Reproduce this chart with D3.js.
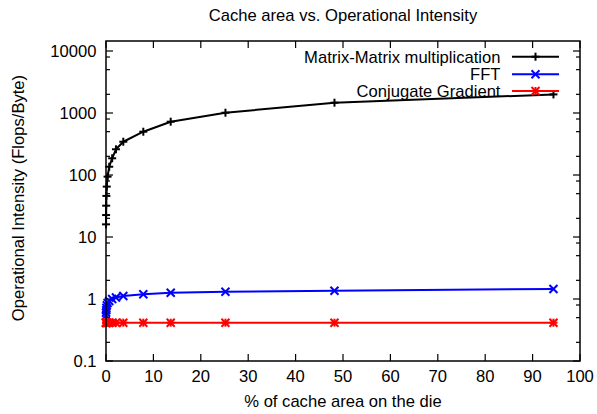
<!DOCTYPE html>
<html>
<head>
<meta charset="utf-8">
<script src="https://cdn.jsdelivr.net/npm/d3@7"></script>
<style>
  html, body { margin: 0; padding: 0; background: #fff; }
  svg text { font-family: "Liberation Sans", Arial, sans-serif; fill: #000; }
</style>
</head>
<body>
<svg id="chart" width="597" height="414"></svg>
<script>
// Share of die area given to cache (%), one entry per configuration
const cacheArea = [0.01, 0.02, 0.04, 0.08, 0.16, 0.33, 0.68, 1.3, 2.1, 3.65, 7.87, 13.65, 25.2, 48.2, 94.4];
// Operational intensity (Flops/Byte) for each kernel
const matrixMatrix = [16, 22.6, 32, 46, 65, 94, 136, 186, 260, 344, 499, 724, 1011, 1466, 1995];
const fft = [0.54, 0.6, 0.66, 0.72, 0.79, 0.86, 0.93, 1.0, 1.06, 1.12, 1.19, 1.26, 1.31, 1.36, 1.45];
const conjugateGradient = [0.415, 0.415, 0.415, 0.415, 0.415, 0.415, 0.415, 0.415, 0.415, 0.415, 0.415, 0.415, 0.415, 0.415, 0.415];

const seriesNames = ["Matrix-Matrix multiplication", "FFT", "Conjugate Gradient"];
const seriesColors = ["#000000", "#0000ff", "#ff0000"];
const seriesMarkers = ["plus", "cross", "star"];
const seriesValues = [matrixMatrix, fft, conjugateGradient];

const xTicks = [0, 10, 20, 30, 40, 50, 60, 70, 80, 90, 100];
const yTicks = [0.1, 1, 10, 100, 1000, 10000];
const yTickLabels = ["0.1", "1", "10", "100", "1000", "10000"];
const yMinorSteps = [2, 5, 8];

const titleText = "Cache area vs. Operational Intensity";
const xTitle = "% of cache area on the die";
const yTitle = "Operational Intensity (Flops/Byte)";

(function () {
  const svg = d3.select("#chart");
  const pL = 106, pR = 580, pT = 41, pB = 361;
  const fontSize = 16.6;

  const x = d3.scaleLinear().domain([0, 100]).range([pL, pR]);
  const y = d3.scaleLog().domain([0.1, 14500]).range([pB, pT]);

  // minor ticks inside each decade
  const yMinor = [];
  yTicks.slice(0, -1).forEach(d => yMinorSteps.forEach(m => yMinor.push(d * m)));

  const axisG = svg.append("g");

  function tickLines(g, vals, scale, orient, len) {
    vals.forEach(v => {
      const p = scale(v);
      if (orient === "x") {
        g.append("line").attr("x1", p).attr("x2", p).attr("y1", pB).attr("y2", pB - len);
        g.append("line").attr("x1", p).attr("x2", p).attr("y1", pT).attr("y2", pT + len);
      } else {
        g.append("line").attr("y1", p).attr("y2", p).attr("x1", pL).attr("x2", pL + len);
        g.append("line").attr("y1", p).attr("y2", p).attr("x1", pR).attr("x2", pR - len);
      }
    });
  }
  const tickG = axisG.append("g").attr("stroke", "#000").attr("stroke-width", 1.2);
  tickLines(tickG, xTicks, x, "x", 7);
  tickLines(tickG, yTicks, y, "y", 7);
  tickLines(tickG, yMinor, y, "y", 4);

  // tick labels
  axisG.append("g").selectAll("text").data(xTicks).join("text")
    .attr("x", d => x(d)).attr("y", 381.5)
    .attr("text-anchor", "middle").attr("font-size", fontSize)
    .text(d => d);
  axisG.append("g").selectAll("text").data(yTicks).join("text")
    .attr("x", 96.5).attr("y", d => y(d)).attr("dy", "0.36em")
    .attr("text-anchor", "end").attr("font-size", fontSize)
    .text((d, i) => yTickLabels[i]);

  // titles
  svg.append("text").attr("x", (pL + pR) / 2).attr("y", 21)
    .attr("text-anchor", "middle").attr("font-size", fontSize).text(titleText);
  svg.append("text").attr("x", (pL + pR) / 2).attr("y", 407)
    .attr("text-anchor", "middle").attr("font-size", fontSize).text(xTitle);
  svg.append("text").attr("transform", "translate(24,198) rotate(-90)")
    .attr("text-anchor", "middle").attr("font-size", fontSize).text(yTitle);

  // marker shapes
  function drawMarker(g, cx, cy, kind, color) {
    const s = 4;
    const m = g.append("g").attr("stroke", color).attr("stroke-width", 2).attr("fill", "none");
    const seg = (x1, y1, x2, y2) => m.append("line")
      .attr("x1", cx + x1).attr("y1", cy + y1).attr("x2", cx + x2).attr("y2", cy + y2);
    if (kind === "plus" || kind === "star") { seg(-s, 0, s, 0); seg(0, -s, 0, s); }
    if (kind === "cross" || kind === "star") { seg(-s, -s, s, s); seg(-s, s, s, -s); }
  }

  const line = d3.line().x(d => x(d[0])).y(d => y(d[1]));
  const plotG = svg.append("g");
  seriesValues.forEach((vals, i) => {
    const pts = cacheArea.map((c, k) => [c, vals[k]]);
    plotG.append("path").datum(pts).attr("d", line)
      .attr("fill", "none").attr("stroke", seriesColors[i]).attr("stroke-width", 2)
      .attr("stroke-linejoin", "round");
    pts.forEach(p => drawMarker(plotG, x(p[0]), y(p[1]), seriesMarkers[i], seriesColors[i]));
  });

  // legend
  const legendRows = [56.7, 74.3, 91];
  const legG = svg.append("g");
  seriesNames.forEach((name, i) => {
    const ly = legendRows[i];
    legG.append("text").attr("x", 500.5).attr("y", ly).attr("dy", "0.36em")
      .attr("text-anchor", "end").attr("font-size", fontSize).text(name);
    legG.append("line").attr("x1", 512).attr("x2", 559).attr("y1", ly).attr("y2", ly)
      .attr("stroke", seriesColors[i]).attr("stroke-width", 2);
    drawMarker(legG, 535.5, ly, seriesMarkers[i], seriesColors[i]);
  });

  // plot frame
  svg.append("rect").attr("x", pL).attr("y", pT)
    .attr("width", pR - pL).attr("height", pB - pT)
    .attr("fill", "none").attr("stroke", "#000").attr("stroke-width", 1.5);
})();
</script>
</body>
</html>
